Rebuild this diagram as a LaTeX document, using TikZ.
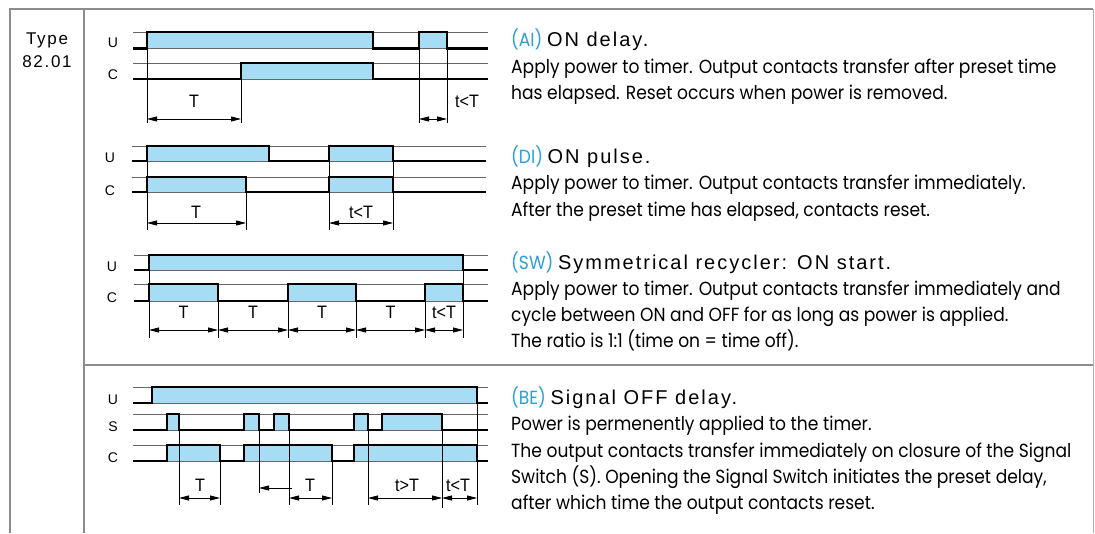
\documentclass[tikz,border=0pt]{standalone}
\usepackage{fontspec}
\setmainfont[FakeStretch=0.9]{Poppins}
\newfontfamily\helv{Liberation Sans}
\newfontfamily\titlefont[LetterSpace=10]{Liberation Sans}
\newfontfamily\dimfont[FakeStretch=0.9]{Liberation Sans}
\usetikzlibrary{arrows.meta}
\definecolor{fillblue}{HTML}{A6DDF5}
\definecolor{framegray}{HTML}{8C8C8C}
\definecolor{titleblue}{HTML}{2A9FD8}
\tikzset{
  frameline/.style={line width=2pt, draw=framegray},
  sig/.style={line width=2.8pt, draw=black, line join=miter, line cap=butt},
  refl/.style={line width=0.8pt, draw=black!60},
  ext/.style={line width=0.8pt, draw=black},
  dimarrow/.style={line width=0.8pt, draw=black, {Triangle[length=10pt,width=5pt]}-{Triangle[length=10pt,width=5pt]}},
  onearrow/.style={line width=0.8pt, draw=black, -{Triangle[length=10pt,width=5pt]}},
  pulse/.style={fill=fillblue, draw=none},
  siglabel/.style={font=\helv\fontsize{14}{14}\selectfont, anchor=center, inner sep=0pt},
  dimlabel/.style={font=\dimfont\fontsize{18}{18}\selectfont, anchor=center, inner sep=0pt},
  body/.style={font=\fontsize{19}{26}\selectfont, anchor=base west, inner sep=0pt},
  typelabel/.style={font=\titlefont\fontsize{17}{17}\selectfont, anchor=center, inner sep=0pt}
}
\newcommand{\ttl}[2]{{\color{titleblue}#1} {\titlefont\fontsize{20}{20}\selectfont #2}}
\begin{document}
\begin{tikzpicture}[x=1pt,y=-1pt]
\useasboundingbox (0,0) rectangle (1095,533);
\fill[white] (0,0) rectangle (1095,533);
% frame
\draw[frameline] (10,533) -- (10,9) -- (1093,9);
\draw[frameline] (84,9) -- (84,533);
\draw[frameline] (84,365) -- (1093,365);
\draw[line width=1pt, draw=framegray!70] (1093,9) -- (1093,533);
\node[typelabel] (type1) at (47,40) {Type};
\node[typelabel] (type2) at (47,62) {82.01};

% ===== AI =====
\fill[pulse] (147,32) rectangle (373,48.5);
\fill[pulse] (419,32) rectangle (447,48.5);
\fill[pulse] (241,63) rectangle (373,79);
\draw[refl] (133,32) -- (488,32);
\draw[refl] (133,48.5) -- (488,48.5);
\draw[refl] (133,63) -- (488,63);
\draw[refl] (133,79) -- (488,79);
\draw[sig] (133,48.5) -| (147,32) -| (373,48.5) -| (419,32) -| (447,48.5) -- (488,48.5);
\draw[sig] (133,79) -| (241,63) -| (373,79) -- (488,79);
\draw[ext] (147,48.5) -- (147,123);
\draw[ext] (241,79) -- (241,123);
\draw[ext] (419,48.5) -- (419,123);
\draw[ext] (447,48.5) -- (447,123);
\draw[dimarrow] (147,119) -- (241,119);
\draw[dimarrow] (419,119) -- (447,119);
\node[siglabel] (aiU) at (113,43) {U};
\node[siglabel] (aiC) at (113,75) {C};
\node[dimlabel] (aiT) at (194,101) {T};
\node[dimlabel] (aitT) at (467,101) {t<T};

% ===== DI =====
\fill[pulse] (147,146) rectangle (269,161);
\fill[pulse] (329,146) rectangle (393,161);
\fill[pulse] (147,177) rectangle (246,192);
\fill[pulse] (329,177) rectangle (393,192);
\draw[refl] (132,146) -- (486,146);
\draw[refl] (132,161) -- (486,161);
\draw[refl] (132,177) -- (486,177);
\draw[refl] (132,192) -- (486,192);
\draw[sig] (132,161) -| (147,146) -| (269,161) -| (329,146) -| (393,161) -- (486,161);
\draw[sig] (132,192) -| (147,177) -| (246,192) -| (329,177) -| (393,192) -- (486,192);
\draw[ext] (147,161) -- (147,230);
\draw[ext] (246,192) -- (246,230);
\draw[ext] (329,161) -- (329,230);
\draw[ext] (393,161) -- (393,230);
\draw[dimarrow] (147,223) -- (246,223);
\draw[dimarrow] (329,223) -- (393,223);
\node[siglabel] (diU) at (110,158) {U};
\node[siglabel] (diC) at (110,191) {C};
\node[dimlabel] (diT) at (196,212) {T};
\node[dimlabel] (ditT) at (361,212) {t<T};

% ===== SW =====
\fill[pulse] (149,255) rectangle (463,270);
\fill[pulse] (149,284) rectangle (218,301);
\fill[pulse] (288,284) rectangle (356,301);
\fill[pulse] (425,284) rectangle (463,301);
\draw[refl] (134,255) -- (488,255);
\draw[refl] (134,270) -- (488,270);
\draw[refl] (134,284) -- (488,284);
\draw[refl] (134,301) -- (488,301);
\draw[sig] (134,270) -| (149,255) -| (463,270) -- (488,270);
\draw[sig] (134,301) -| (149,284) -| (218,301) -| (288,284) -| (356,301) -| (425,284) -| (463,301) -- (488,301);
\draw[ext] (149,270) -- (149,338);
\draw[ext] (218,301) -- (218,338);
\draw[ext] (288,301) -- (288,338);
\draw[ext] (356,301) -- (356,338);
\draw[ext] (425,301) -- (425,338);
\draw[ext] (463,270) -- (463,338);
\draw[dimarrow] (149,330) -- (218,330);
\draw[dimarrow] (218,330) -- (288,330);
\draw[dimarrow] (288,330) -- (356,330);
\draw[dimarrow] (356,330) -- (425,330);
\draw[dimarrow] (425,330) -- (463,330);
\node[siglabel] (swU) at (112,267) {U};
\node[siglabel] (swC) at (112,298) {C};
\node[dimlabel] (swT1) at (183.5,312) {T};
\node[dimlabel] (swT2) at (253,312) {T};
\node[dimlabel] (swT3) at (322,312) {T};
\node[dimlabel] (swT4) at (390.5,312) {T};
\node[dimlabel] (swtT) at (444,312) {t<T};

% ===== BE =====
\fill[pulse] (152,387) rectangle (477,403);
\fill[pulse] (167,414) rectangle (179,430);
\fill[pulse] (244,414) rectangle (259,430);
\fill[pulse] (274,414) rectangle (289,430);
\fill[pulse] (354,414) rectangle (368,430);
\fill[pulse] (382,414) rectangle (442,430);
\fill[pulse] (167,445) rectangle (220,461);
\fill[pulse] (244,445) rectangle (332,461);
\fill[pulse] (354,445) rectangle (477,461);
\draw[refl] (133,387) -- (488,387);
\draw[refl] (133,403) -- (488,403);
\draw[refl] (133,414) -- (488,414);
\draw[refl] (133,430) -- (488,430);
\draw[refl] (133,445) -- (488,445);
\draw[refl] (133,461) -- (488,461);
\draw[sig] (133,403) -| (152,387) -| (477,403) -- (488,403);
\draw[sig] (133,430) -| (167,414) -| (179,430) -| (244,414) -| (259,430) -| (274,414) -| (289,430) -| (354,414) -| (368,430) -| (382,414) -| (442,430) -- (488,430);
\draw[sig] (133,461) -| (167,445) -| (220,461) -| (244,445) -| (332,461) -| (354,445) -| (477,461) -- (488,461);
\draw[ext] (179,430) -- (179,505);
\draw[ext] (220,461) -- (220,505);
\draw[ext] (259,430) -- (259,493);
\draw[ext] (289,430) -- (289,505);
\draw[ext] (332,461) -- (332,505);
\draw[ext] (368,430) -- (368,505);
\draw[ext] (442,430) -- (442,508);
\draw[ext] (477,403) -- (477,505);
\coordinate (beArrS) at (292,488);
\coordinate (beArrE) at (259,488);
\draw[onearrow] (beArrS) -- (beArrE);
\draw[dimarrow] (179,498) -- (220,498);
\draw[dimarrow] (289,498) -- (332,498);
\draw[dimarrow] (368,498) -- (442,498);
\draw[dimarrow] (442,498) -- (477,498);
\node[siglabel] (beU) at (113,400) {U};
\node[siglabel] (beS) at (113,427) {S};
\node[siglabel] (beC) at (113,458) {C};
\node[dimlabel] (beT1) at (200,485) {T};
\node[dimlabel] (beT2) at (310,485) {T};
\node[dimlabel] (beT3) at (407,485) {t>T};
\node[dimlabel] (beT4) at (458,485) {t<T};

% ===== texts =====
\node[body] (ai0) at (511,46) {\ttl{(AI)}{ON delay.}};
\node[body] (ai1) at (511,73) {Apply power to timer. Output contacts transfer after preset time};
\node[body] (ai2) at (511,99) {has elapsed. Reset occurs when power is removed.};

\node[body] (di0) at (511,163) {\ttl{(DI)}{ON pulse.}};
\node[body] (di1) at (511,189) {Apply power to timer. Output contacts transfer immediately.};
\node[body] (di2) at (511,216) {After the preset time has elapsed, contacts reset.};

\node[body] (sw0) at (511,269) {\ttl{(SW)}{Symmetrical recycler: ON start.}};
\node[body] (sw1) at (511,295) {Apply power to timer. Output contacts transfer immediately and};
\node[body] (sw2) at (511,321) {cycle between ON and OFF for as long as power is applied.};
\node[body] (sw3) at (511,347) {The ratio is 1:1 (time on = time off).};

\node[body] (be0) at (511,404) {\ttl{(BE)}{Signal OFF delay.}};
\node[body] (be1) at (511,430) {Power is permenently applied to the timer.};
\node[body] (be2) at (511,457) {The output contacts transfer immediately on closure of the Signal};
\node[body] (be3) at (511,483) {Switch (S). Opening the Signal Switch initiates the preset delay,};
\node[body] (be4) at (511,509) {after which time the output contacts reset.};
\end{tikzpicture}
\end{document}
